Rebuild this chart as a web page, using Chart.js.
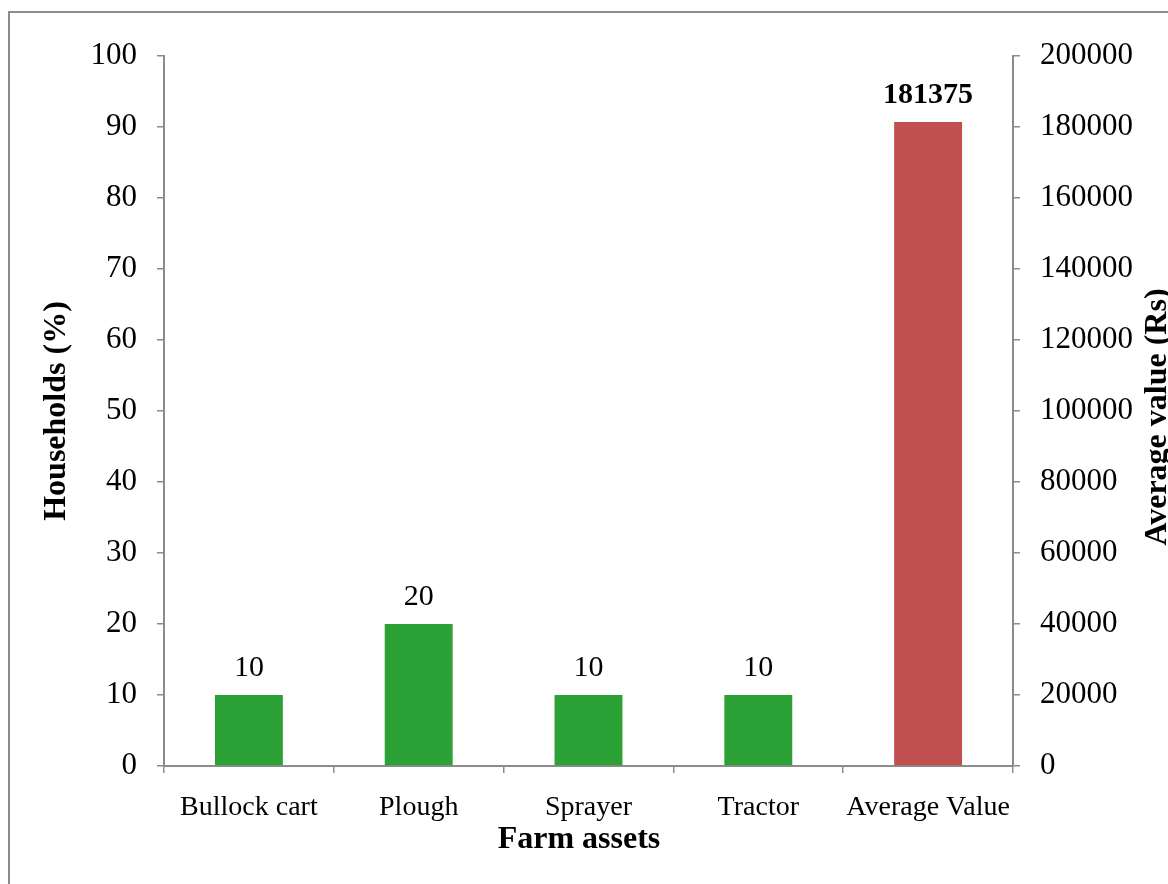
<!DOCTYPE html>
<html>
<head>
<meta charset="utf-8">
<title>Farm assets</title>
<script src="https://cdn.jsdelivr.net/npm/chart.js@4.4.1/dist/chart.umd.min.js"></script>
<style>
  html, body { margin: 0; padding: 0; background: #fff; overflow: hidden; }
  #wrap { position: relative; width: 1168px; height: 884px; overflow: hidden; }
  #frame { position: absolute; left: 8px; top: 11px; width: 1300px; height: 1000px; border: 2px solid #8c8c8c; }
  #assetChart { position: absolute; left: 0; top: 0; }
</style>
</head>
<body>
<div id="wrap">
  <div id="frame"></div>
  <canvas id="assetChart" width="1168" height="884"></canvas>
</div>
<script>
const categories = ['Bullock cart', 'Plough', 'Sprayer', 'Tractor', 'Average Value'];
const householdShare = [10, 20, 10, 10, null];
const averageValue = [null, null, null, null, 181375];
const shareMax = 100, shareStep = 10;
const valueMax = 200000, valueStep = 20000;

const serif = '"Liberation Serif", "Times New Roman", serif';
const axisGrey = '#8c8c8c';

// value labels sitting above each bar
const barLabels = {
  id: 'barLabels',
  afterDatasetsDraw(chart) {
    const ctx = chart.ctx;
    ctx.save();
    ctx.fillStyle = '#000';
    ctx.textAlign = 'center';
    ctx.textBaseline = 'alphabetic';
    chart.data.datasets.forEach((ds, i) => {
      const meta = chart.getDatasetMeta(i);
      ctx.font = (ds.labelBold ? 'bold ' : '') + '30px ' + serif;
      meta.data.forEach((bar, j) => {
        const v = ds.data[j];
        if (v === null || v === undefined) return;
        ctx.fillText(String(v), bar.x, bar.y - 19);
      });
    });
    ctx.restore();
  }
};

// x title and right axis title (the right one reads bottom to top like the left)
const extraTitles = {
  id: 'extraTitles',
  afterDraw(chart) {
    const ctx = chart.ctx;
    const area = chart.chartArea;
    ctx.save();
    ctx.font = 'bold 32px ' + serif;
    ctx.fillStyle = '#000';
    ctx.textAlign = 'center';
    ctx.textBaseline = 'middle';
    ctx.fillText('Farm assets', 579, 840);
    ctx.translate(1158, (area.top + area.bottom) / 2 + 6);
    ctx.rotate(-Math.PI / 2);
    ctx.fillText('Average value (Rs)', 0, 0);
    ctx.restore();
  }
};

const ctx = document.getElementById('assetChart').getContext('2d');

new Chart(ctx, {
  type: 'bar',
  data: {
    labels: categories,
    datasets: [{
      label: 'Households (%)',
      data: householdShare,
      yAxisID: 'y',
      backgroundColor: '#2ca136',
      grouped: false,
      categoryPercentage: 1,
      barPercentage: 0.4
    }, {
      label: 'Average value (Rs)',
      data: averageValue,
      yAxisID: 'y1',
      backgroundColor: '#c0504d',
      grouped: false,
      categoryPercentage: 1,
      barPercentage: 0.4,
      labelBold: true
    }]
  },
  options: {
    responsive: false,
    animation: false,
    layout: { padding: { top: 56, left: 0, right: 0, bottom: 0 } },
    plugins: {
      legend: { display: false },
      tooltip: { enabled: false }
    },
    scales: {
      x: {
        grid: { drawOnChartArea: false, drawTicks: true, tickLength: 7, color: axisGrey, lineWidth: 1.5 },
        border: { display: true, color: axisGrey, width: 2 },
        ticks: { color: '#000', padding: 18, font: { family: serif, size: 28 } },
        afterFit(scale) { scale.height = 118; }
      },
      y: {
        position: 'left',
        min: 0,
        max: shareMax,
        ticks: {
          stepSize: shareStep,
          color: '#000',
          padding: 20,
          font: { family: serif, size: 31 },
          callback: v => String(v)
        },
        grid: { drawOnChartArea: false, drawTicks: true, tickLength: 7, color: axisGrey, lineWidth: 1.5 },
        border: { display: true, color: axisGrey, width: 2 },
        title: {
          display: true,
          text: 'Households (%)',
          color: '#000',
          font: { family: serif, size: 32, weight: 'bold' },
          padding: { top: 38, bottom: 0 }
        },
        afterFit(scale) { scale.width = 164; }
      },
      y1: {
        position: 'right',
        min: 0,
        max: valueMax,
        ticks: {
          stepSize: valueStep,
          color: '#000',
          padding: 20,
          font: { family: serif, size: 31 },
          callback: v => String(v)
        },
        grid: { drawOnChartArea: false, drawTicks: true, tickLength: 7, color: axisGrey, lineWidth: 1.5 },
        border: { display: true, color: axisGrey, width: 2 },
        afterFit(scale) { scale.width = 155; }
      }
    }
  },
  plugins: [barLabels, extraTitles]
});
</script>
</body>
</html>
